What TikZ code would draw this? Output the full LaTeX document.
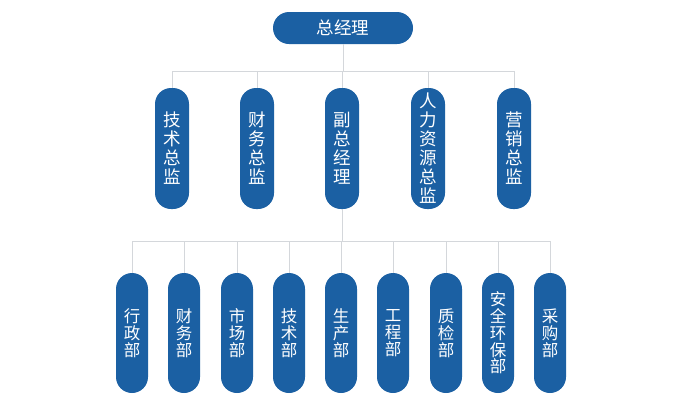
\documentclass[tikz,border=0pt]{standalone}
\usepackage{fontspec}
\newfontfamily\cjk{Noto Sans CJK SC}
\definecolor{pillblue}{RGB}{27,96,163}
\definecolor{wiregray}{RGB}{212,215,219}
\tikzset{
    pill/.style={fill=pillblue, text=white, rounded corners=16pt, align=center, inner sep=0pt},
    headpill/.style={pill, minimum width=140pt, minimum height=32pt, font=\cjk\fontsize{17.5}{20}\selectfont},
    midpill/.style={pill, minimum width=34pt, minimum height=121pt, font=\cjk\fontsize{17.5}{19}\selectfont},
    lowpill/.style={pill, minimum width=32pt, minimum height=120pt, font=\cjk\fontsize{16.5}{16.8}\selectfont},
    wire/.style={draw=wiregray, line width=0.8pt}
}
\begin{document}
\begin{tikzpicture}[x=1pt, y=-1pt]
    \useasboundingbox (0,0) rectangle (686,405);

    \node[headpill] (GM) at (343,28) {总经理};

    \node[midpill] (M1) at (172,148.5) {技\\术\\总\\监};
    \node[midpill] (M2) at (257,148.5) {财\\务\\总\\监};
    \node[midpill] (M3) at (342,148.5) {副\\总\\经\\理};
    \node[midpill] (M4) at (428,148.5) {人\\力\\资\\源\\总\\监};
    \node[midpill] (M5) at (514,148.5) {营\\销\\总\\监};

    \node[lowpill] (D1) at (132,333) {行\\政\\部};
    \node[lowpill] (D2) at (184,333) {财\\务\\部};
    \node[lowpill] (D3) at (237,333) {市\\场\\部};
    \node[lowpill] (D4) at (289,333) {技\\术\\部};
    \node[lowpill] (D5) at (341,333) {生\\产\\部};
    \node[lowpill] (D6) at (393,333) {工\\程\\部};
    \node[lowpill] (D7) at (446,333) {质\\检\\部};
    \node[lowpill] (D8) at (498,333) {安\\全\\环\\保\\部};
    \node[lowpill] (D9) at (550,333) {采\\购\\部};

    \coordinate (upbus) at (343,71);
    \coordinate (lowbus) at (342,241);

    % general manager to the directors
    \path[wire] (GM.south) edge (GM.south |- upbus);
    \path[wire] (M1.north |- upbus) edge (M5.north |- upbus);
    \path[wire] (M1.north) edge (M1.north |- upbus);
    \path[wire] (M2.north) edge (M2.north |- upbus);
    \path[wire] (M3.north) edge (M3.north |- upbus);
    \path[wire] (M4.north) edge (M4.north |- upbus);
    \path[wire] (M5.north) edge (M5.north |- upbus);

    % deputy to the departments
    \path[wire] (M3.south) edge (M3.south |- lowbus);
    \path[wire] (D1.north |- lowbus) edge (D9.north |- lowbus);
    \path[wire] (D1.north) edge (D1.north |- lowbus);
    \path[wire] (D2.north) edge (D2.north |- lowbus);
    \path[wire] (D3.north) edge (D3.north |- lowbus);
    \path[wire] (D4.north) edge (D4.north |- lowbus);
    \path[wire] (D5.north) edge (D5.north |- lowbus);
    \path[wire] (D6.north) edge (D6.north |- lowbus);
    \path[wire] (D7.north) edge (D7.north |- lowbus);
    \path[wire] (D8.north) edge (D8.north |- lowbus);
    \path[wire] (D9.north) edge (D9.north |- lowbus);
\end{tikzpicture}
\end{document}
